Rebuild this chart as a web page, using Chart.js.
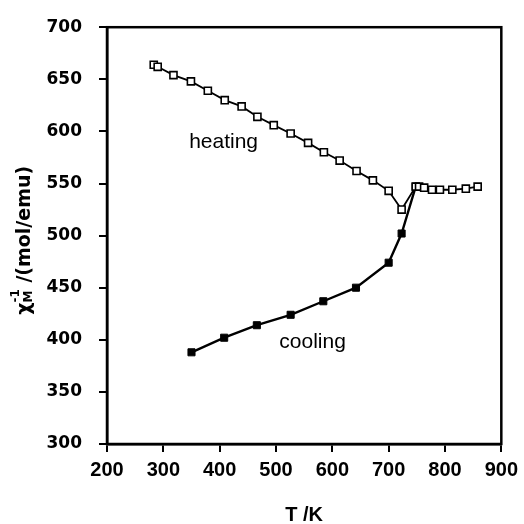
<!DOCTYPE html>
<html>
<head>
<meta charset="utf-8">
<script src="https://cdn.jsdelivr.net/npm/chart.js@4"></script>
<style>
  html, body { margin: 0; padding: 0; background: #fff; }
  #wrap { width: 524px; height: 524px; }
</style>
</head>
<body>
<div id="wrap"><canvas id="myChart" width="524" height="524"></canvas></div>
<script>
// heating run (open squares)
const heatT = [283, 290, 318, 349, 379, 409, 439, 467, 496, 526, 557, 585, 613, 643, 672, 700, 723, 748, 754, 763, 777, 791, 813, 837, 858]
const heatChi = [664, 662, 654, 648, 639, 630, 624, 614, 606, 598, 589, 580, 572, 562, 553, 543, 525, 547, 547, 546, 544, 544, 544, 545, 547]
// cooling run (filled squares)
const coolT = [350, 408, 466, 526, 584, 642, 700, 723, 748]
const coolChi = [388, 402, 414, 424, 437, 450, 474, 502, 547]
const xTicks = [200, 300, 400, 500, 600, 700, 800, 900]
const yTicks = [300, 350, 400, 450, 500, 550, 600, 650, 700]

const toXY = (xs, ys) => xs.map((x, i) => ({ x: x, y: ys[i] }))
const FONT = 'Liberation Sans, Arial, sans-serif'
const WIDE = 'DejaVu Sans, sans-serif'

const frame = {
    id: 'frame',
    afterDraw(chart) {
        const c = chart.ctx
        const a = chart.chartArea
        const sx = chart.scales.x, sy = chart.scales.y
        c.save()
        c.strokeStyle = '#000'
        c.lineWidth = 2.5
        c.strokeRect(a.left, a.top, a.right - a.left, a.bottom - a.top)

        c.fillStyle = '#000'
        c.textAlign = 'center'
        c.textBaseline = 'middle'
        c.font = '21px ' + FONT
        c.fillText('heating', sx.getPixelForValue(407), sy.getPixelForValue(590))
        c.fillText('cooling', sx.getPixelForValue(565), sy.getPixelForValue(398))

        // x title
        c.font = 'bold 20px ' + FONT
        c.fillText('T /K', (a.left + a.right) / 2, 515)

        // y title with sub/superscript
        c.translate(25, 241)
        c.rotate(-Math.PI / 2)
        const parts = [
            { t: '\u03C7', f: 'bold 19px ' + WIDE, dy: 0 },
            { t: 'M', f: 'bold 12px ' + WIDE, dy: 4 },
            { t: '-1', f: 'bold 12px ' + WIDE, dy: -9 },
            { t: ' /(mol/emu)', f: 'bold 19px ' + WIDE, dy: 0 }
        ]
        let w = 0
        parts.forEach(p => { c.font = p.f; p.w = c.measureText(p.t).width; w += p.w })
        // superscript sits above the subscript
        w -= parts[2].w
        let x = -w / 2
        c.textAlign = 'left'
        parts.forEach((p, i) => {
            c.font = p.f
            if (i === 2) {
                c.fillText(p.t, x - parts[1].w, p.dy)
                x += Math.max(0, p.w - parts[1].w)
            } else {
                c.fillText(p.t, x, p.dy)
                x += p.w
            }
        })
        c.restore()
    }
}

const ctx = document.getElementById('myChart').getContext('2d')
const myChart = new Chart(ctx, {
    type: 'line',
    data: {
        datasets: [{
            label: 'heating',
            data: toXY(heatT, heatChi),
            borderColor: '#000',
            borderWidth: 1.8,
            pointStyle: 'rect',
            pointRadius: 5,
            pointBorderWidth: 1.6,
            pointBackgroundColor: '#fff',
            pointBorderColor: '#000',
            tension: 0
        }, {
            label: 'cooling',
            data: toXY(coolT, coolChi),
            borderColor: '#000',
            borderWidth: 2.4,
            pointStyle: 'rect',
            pointRadius: 5,
            pointBorderWidth: 1,
            pointBackgroundColor: '#000',
            pointBorderColor: '#000',
            tension: 0
        }]
    },
    options: {
        responsive: false,
        animation: false,
        layout: { padding: { top: 20, right: 18, left: 0, bottom: 0 } },
        plugins: { legend: { display: false }, tooltip: { enabled: false } },
        scales: {
            x: {
                type: 'linear',
                min: 200,
                max: 900,
                afterBuildTicks: s => { s.ticks = xTicks.map(v => ({ value: v })) },
                afterFit: s => { s.height = 80 },
                ticks: { color: '#000', font: { family: FONT, size: 20, weight: 'bold' }, padding: 6 },
                grid: { drawOnChartArea: false, drawTicks: true, tickLength: 8, color: '#000', lineWidth: 2 },
                border: { color: '#000', width: 2.5 }
            },
            y: {
                min: 300,
                max: 700,
                afterBuildTicks: s => { s.ticks = yTicks.map(v => ({ value: v })) },
                afterFit: s => { s.width = 107 },
                ticks: { color: '#000', font: { family: WIDE, size: 17, weight: 'bold' }, padding: 17 },
                grid: { drawOnChartArea: false, drawTicks: true, tickLength: 8, color: '#000', lineWidth: 2 },
                border: { color: '#000', width: 2.5 }
            }
        }
    },
    plugins: [frame]
})
</script>
</body>
</html>
